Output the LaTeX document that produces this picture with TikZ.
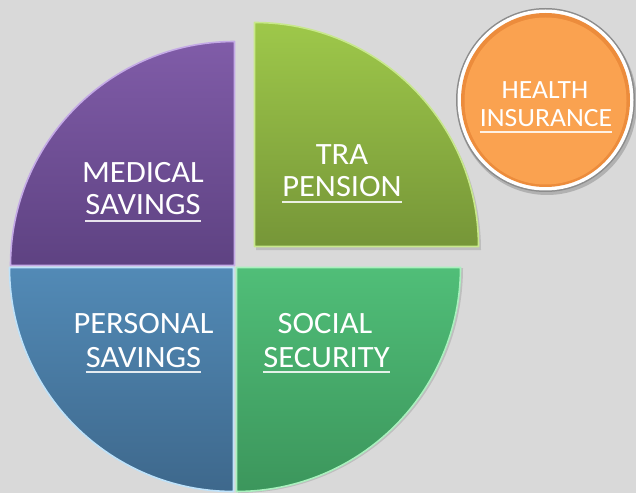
\documentclass[tikz,border=0pt]{standalone}
\usepackage{fontspec}
\setmainfont{Carlito}[FakeStretch=1.05]
\begin{document}
\begin{tikzpicture}[x=1pt,y=1pt,
  wedge/.style={line width=1.6pt, line join=round},
  txt/.style={text=white, inner sep=0pt, anchor=base, font=\fontsize{31}{33}\selectfont},
  smalltxt/.style={txt, font=\fontsize{26.3}{28}\selectfont},
  uline/.style={draw=white, draw opacity=0.85, line width=1.4pt},
  shadowfill/.style={fill=black, fill opacity=0.12}
]
\definecolor{bg}{RGB}{217,217,217}
\definecolor{purpleT}{RGB}{128,92,168}
\definecolor{purpleB}{RGB}{94,66,130}
\definecolor{purpleE}{RGB}{196,170,230}
\definecolor{oliveT}{RGB}{158,200,74}
\definecolor{oliveB}{RGB}{118,150,56}
\definecolor{oliveE}{RGB}{200,232,140}
\definecolor{blueT}{RGB}{82,138,182}
\definecolor{blueB}{RGB}{62,104,140}
\definecolor{blueE}{RGB}{190,226,250}
\definecolor{greenT}{RGB}{80,190,120}
\definecolor{greenB}{RGB}{60,150,92}
\definecolor{greenE}{RGB}{170,240,190}
\definecolor{orangeF}{RGB}{250,162,80}
\definecolor{orangeR}{RGB}{236,140,60}
\definecolor{ringG}{RGB}{140,140,140}

% canvas
\fill[bg] (0,0) rectangle (636,493);
\useasboundingbox (0,0) rectangle (636,493);

% soft shadows under the raised pieces
\fill[shadowfill] (256,243) -- ++(225,0) arc[start angle=0,end angle=90,radius=225] -- cycle;
\fill[shadowfill] (238,225) -- ++(0,-225) arc[start angle=270,end angle=360,radius=225] -- cycle;
\fill[black, opacity=0.18] (547,390) ellipse[x radius=90, y radius=92];

% medical savings (upper left)
\path[wedge, top color=purpleT, bottom color=purpleB, draw=purpleE]
  (234.5,227.5) -- ++(0,224) arc[start angle=90,end angle=180,radius=224] -- cycle;
% TRA pension (upper right, pulled out)
\path[wedge, top color=oliveT, bottom color=oliveB, draw=oliveE]
  (254.5,246.5) -- ++(224,0) arc[start angle=0,end angle=90,radius=224] -- cycle;
% personal savings (lower left)
\path[wedge, top color=blueT, bottom color=blueB, draw=blueE]
  (233.5,225.5) -- ++(-224,0) arc[start angle=180,end angle=270,radius=224] -- cycle;
% social security (lower right)
\path[wedge, top color=greenT, bottom color=greenB, draw=greenE]
  (236.5,225.5) -- ++(0,-224) arc[start angle=270,end angle=360,radius=224] -- cycle;

% health insurance disc
\fill[ringG] (545.5,393) ellipse[x radius=89.5, y radius=92];
\fill[white] (545.5,393) ellipse[x radius=88, y radius=90.5];
\fill[orangeR] (545.5,393) ellipse[x radius=84.5, y radius=87];
\fill[orangeF] (545.5,392) ellipse[x radius=81, y radius=83.5];

% labels
\node[txt] (med1) at (143,310) {MEDICAL};
\node[txt] (med2) at (143,278) {SAVINGS};
\draw[uline] ([yshift=-6pt]med2.base west) -- ([yshift=-6pt]med2.base east);

\node[txt] (tra1) at (342,328) {TRA};
\node[txt] (tra2) at (342,296) {PENSION};
\draw[uline] ([yshift=-5pt]tra2.base west) -- ([yshift=-5pt]tra2.base east);

\node[txt] (per1) at (143.5,160) {PERSONAL};
\node[txt] (per2) at (143.5,126) {SAVINGS};
\draw[uline] ([yshift=-5pt]per2.base west) -- ([yshift=-5pt]per2.base east);

\node[txt] (soc1) at (325,160) {SOCIAL};
\node[txt] (soc2) at (326.5,126) {SECURITY};
\draw[uline] ([yshift=-5pt]soc2.base west) -- ([yshift=-5pt]soc2.base east);

\node[smalltxt] (hea1) at (545,394) {HEALTH};
\node[smalltxt] (hea2) at (546,366) {INSURANCE};
\draw[uline] ([yshift=-5pt]hea2.base west) -- ([yshift=-5pt]hea2.base east);
\end{tikzpicture}
\end{document}
